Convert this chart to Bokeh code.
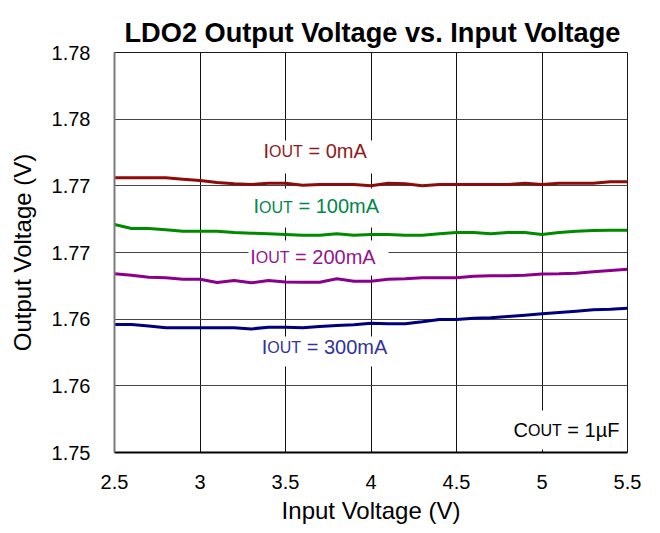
from bokeh.plotting import figure
from bokeh.models import FixedTicker, Label, BoxAnnotation
from bokeh.embed import file_html
from bokeh.resources import INLINE

# ---------------- data ----------------
vin = [2.5, 2.6, 2.7, 2.8, 2.9, 3.0, 3.1, 3.2, 3.3, 3.4, 3.5, 3.6, 3.7, 3.8, 3.9, 4.0,
       4.1, 4.2, 4.3, 4.4, 4.5, 4.6, 4.7, 4.8, 4.9, 5.0, 5.1, 5.2, 5.3, 5.4, 5.5]

vout_0mA = [1.7706, 1.7706, 1.7706, 1.7706, 1.7705, 1.7704, 1.77025, 1.77015, 1.7701, 1.7702,
            1.7702, 1.77005, 1.7701, 1.7701, 1.7701, 1.7700, 1.7702, 1.77015, 1.7700, 1.7701,
            1.7701, 1.7701, 1.7701, 1.7701, 1.7702, 1.7701, 1.7702, 1.7702, 1.7702, 1.7703, 1.7703]

vout_100mA = [1.7671, 1.7668, 1.7668, 1.7667, 1.7666, 1.7666, 1.7666, 1.7665, 1.76645, 1.7664,
              1.76635, 1.7663, 1.7663, 1.7664, 1.7663, 1.76635, 1.76635, 1.7663, 1.7663, 1.7664,
              1.7665, 1.7665, 1.7664, 1.7665, 1.7665, 1.76635, 1.7665, 1.7666, 1.76665, 1.76667, 1.76667]

vout_200mA = [1.7634, 1.7633, 1.76315, 1.7631, 1.7630, 1.7630, 1.76275, 1.7629, 1.76273, 1.7629,
              1.76278, 1.76277, 1.76277, 1.76303, 1.76285, 1.76285, 1.7630, 1.76303, 1.7631, 1.7631,
              1.7631, 1.76322, 1.76325, 1.76325, 1.7633, 1.76338, 1.7634, 1.76345, 1.76355, 1.76365, 1.76375]

vout_300mA = [1.7596, 1.7596, 1.75948, 1.75935, 1.75935, 1.75935, 1.75935, 1.75935, 1.75927, 1.7594,
              1.7594, 1.75935, 1.75945, 1.75953, 1.75958, 1.7597, 1.75965, 1.75965, 1.7598, 1.75998,
              1.75998, 1.76007, 1.7601, 1.7602, 1.7603, 1.7604, 1.7605, 1.7606, 1.7607, 1.76075, 1.76082]

x_ticks = [2.5, 3.0, 3.5, 4.0, 4.5, 5.0, 5.5]
x_tick_labels = ["2.5", "3", "3.5", "4", "4.5", "5", "5.5"]
y_ticks = [1.75, 1.755, 1.76, 1.765, 1.77, 1.775, 1.78]
y_tick_labels = ["1.75", "1.76", "1.76", "1.77", "1.77", "1.78", "1.78"]

series_names = ["0mA", "100mA", "200mA", "300mA"]

# ---------------- figure ----------------
FONT = "Liberation Sans"
W, H = 660, 533
ML, MR, MT, MB = 114, 33, 52, 81
X0, X1 = 2.5, 5.5
Y0, Y1 = 1.75, 1.78

p = figure(width=W, height=H, x_range=(X0, X1), y_range=(Y0, Y1),
           output_backend="svg", toolbar_location=None,
           min_border_left=ML, min_border_right=MR, min_border_top=MT, min_border_bottom=MB,
           background_fill_color="white", border_fill_color="white")

p.outline_line_color = "#1a1a1a"
p.outline_line_width = 1

p.title.text = "LDO2 Output Voltage vs. Input Voltage"
p.title.text_font = FONT
p.title.text_font_style = "bold"
p.title.text_font_size = "27.2px"
p.title.text_color = "black"
p.title.align = "left"
p.title.offset = 10
p.title.standoff = 10

# axes
p.xaxis.ticker = FixedTicker(ticks=x_ticks)
p.xaxis.major_label_overrides = dict(zip(x_ticks, x_tick_labels))
p.yaxis.ticker = FixedTicker(ticks=y_ticks)
p.yaxis.major_label_overrides = dict(zip(y_ticks, y_tick_labels))

for ax in (p.xaxis[0], p.yaxis[0]):
    ax.major_tick_in = 0
    ax.major_tick_out = 0
    ax.minor_tick_in = 0
    ax.minor_tick_out = 0
    ax.major_label_text_font = FONT
    ax.major_label_text_font_size = "20px"
    ax.major_label_text_color = "black"
    ax.axis_label_text_font = FONT
    ax.axis_label_text_font_size = "24px"
    ax.axis_label_text_font_style = "normal"
    ax.axis_label_text_color = "black"

p.xaxis.axis_label = "Input Voltage (V)"
p.yaxis.axis_label = "Output Voltage (V)"
p.xaxis.major_label_standoff = 22
p.xaxis.axis_label_standoff = 5
p.yaxis.major_label_standoff = 24
p.yaxis.axis_label_standoff = 13
p.xaxis.axis_line_color = "black"
p.xaxis.axis_line_width = 2
p.yaxis.axis_line_color = "#7a7a7a"
p.yaxis.axis_line_width = 2

p.xgrid.grid_line_color = "#111111"
p.xgrid.grid_line_width = 1
p.ygrid.grid_line_color = "#444444"
p.ygrid.grid_line_width = 1

# ---------------- lines ----------------
line_colors = ["#8E0B0B", "#008A00", "#8B008B", "#00007F"]
text_colors = ["#8E1B1B", "#00874A", "#93168F", "#333399"]
series = [vout_0mA, vout_100mA, vout_200mA, vout_300mA]
for ys, c in zip(series, line_colors):
    p.line(vin, ys, line_color=c, line_width=3)

# ---------------- annotations ----------------
FW = W - ML - MR
FH = H - MT - MB
def px_x(px):
    return X0 + (px - ML) / FW * (X1 - X0)
def px_y(py):
    return Y0 + (MT + FH - py) / FH * (Y1 - Y0)

# Arial / Liberation Sans advance widths (em/1000)
ADV = {"I": 278, "C": 722, "O": 778, "U": 722, "T": 611, " ": 278, "=": 584,
       "0": 556, "1": 556, "2": 556, "3": 556, "m": 833, "A": 667, "µ": 576, "F": 611}
def tw(s, size):
    return sum(ADV[ch] for ch in s) / 1000.0 * size

MAIN, SUB = 20, 16

def add_sub_label(lead, rest, left_px, base_px, color, box):
    bl, bt, br, bb = box
    p.add_layout(BoxAnnotation(left=px_x(bl), right=px_x(br), top=px_y(bt), bottom=px_y(bb),
                               fill_color="white", fill_alpha=1.0, line_color=None))
    x = px_x(left_px)
    y = px_y(base_px)
    off = 0.0
    for txt, size, dy in ((lead, MAIN, 0), ("OUT", SUB, -1), (rest, MAIN, 0)):
        stripped = txt.lstrip(" ")
        off += tw(txt[:len(txt) - len(stripped)], size)
        p.add_layout(Label(x=x, y=y, x_offset=off, y_offset=dy, text=stripped,
                           text_font=FONT, text_font_size=f"{size}px", text_color=color,
                           text_baseline="alphabetic", text_align="left"))
        off += tw(stripped, size)

label_specs = [
    # rest text, left px, baseline px, white box (l, t, r, b) in pixels
    (" = 0mA",   263.0, 150.0, (261, 140, 378, 173)),
    (" = 100mA", 253.0, 205.7, (251, 188, 390, 227)),
    (" = 200mA", 249.7, 256.3, (248, 240, 388, 275)),
    (" = 300mA", 261.3, 346.3, (259, 336, 398, 366)),
]
for name, (rest, lx, by, box), tc in zip(series_names, label_specs, text_colors):
    add_sub_label("I", rest, lx, by, tc, box)

add_sub_label("C", " = 1µF", 513.0, 429.0, "black", (511, 410, 625, 449))

open("out.html", "w").write(file_html(p, INLINE))
